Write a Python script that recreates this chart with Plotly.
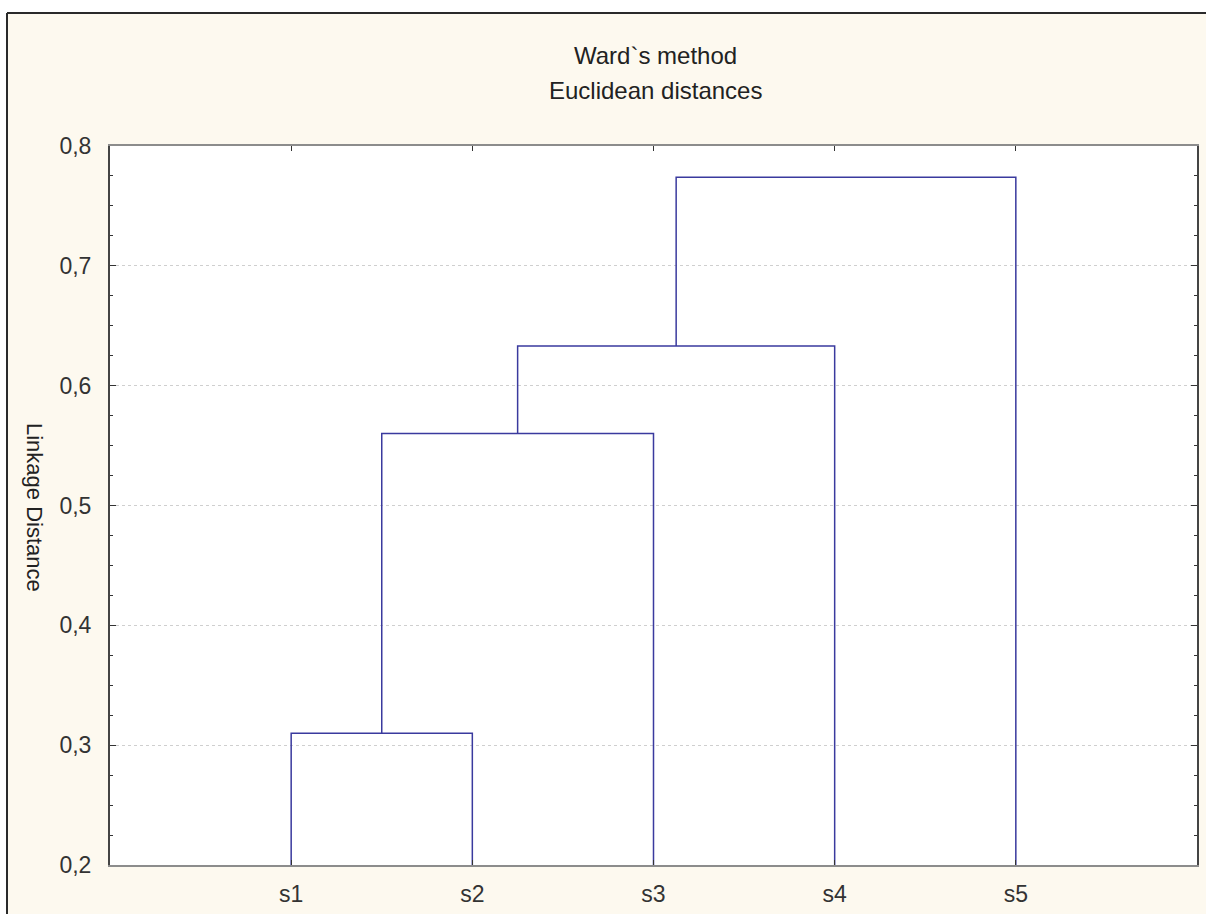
import plotly.graph_objects as go

# Leaves of the dendrogram, left to right
leaf_labels = ["s1", "s2", "s3", "s4", "s5"]

# Agglomeration steps (Ward's method): pair of members joined and linkage distance.
# Members are leaf names or "c<k>" for the cluster created at step k.
merge_left = ["s1", "c1", "c2", "c3"]
merge_right = ["s2", "s3", "s4", "s5"]
merge_height = [0.310, 0.560, 0.633, 0.774]

y_ticks = [0.2, 0.3, 0.4, 0.5, 0.6, 0.7, 0.8]

FONT = "Liberation Sans, Arial, sans-serif"
LINE_COLOR = "#3a3a9e"
CREAM = "#fdf9ef"

# Position of each node: x = leaf order (or midpoint of children), y = height
pos = {name: (i + 1, 0.2) for i, name in enumerate(leaf_labels)}

fig = go.Figure()
for k, (a, b, h) in enumerate(zip(merge_left, merge_right, merge_height), start=1):
    xa, ya = pos[a]
    xb, yb = pos[b]
    fig.add_trace(go.Scatter(
        x=[xa, xa, xb, xb],
        y=[ya, h, h, yb],
        mode="lines",
        line=dict(color=LINE_COLOR, width=1.5),
        hoverinfo="skip",
        showlegend=False,
    ))
    pos[f"c{k}"] = ((xa + xb) / 2, h)

# Layout geometry in pixels
W, H = 1206, 914
L, R, T, B = 110, 9, 146, 49
pw, ph = W - L - R, H - T - B


def px_x(p):
    return (p - L) / pw


def px_y(p):
    return (H - B - p) / ph


shapes = [
    # white margin outside the outer frame
    dict(type="rect", xref="paper", yref="paper",
         x0=px_x(-5), x1=px_x(7), y0=px_y(H + 5), y1=px_y(-5),
         fillcolor="white", line=dict(width=0), layer="below"),
    dict(type="rect", xref="paper", yref="paper",
         x0=px_x(-5), x1=px_x(W + 5), y0=px_y(13), y1=px_y(-5),
         fillcolor="white", line=dict(width=0), layer="below"),
    # outer frame edges
    dict(type="line", xref="paper", yref="paper",
         x0=px_x(7), x1=px_x(7), y0=px_y(13), y1=px_y(H + 5),
         line=dict(color="#2a2a2a", width=2)),
    dict(type="line", xref="paper", yref="paper",
         x0=px_x(7), x1=px_x(W + 5), y0=px_y(13), y1=px_y(13),
         line=dict(color="#2a2a2a", width=2)),
]

annotations = [
    dict(text="Ward`s method", xref="paper", yref="paper",
         x=px_x(655), y=px_y(56), xanchor="center", yanchor="middle",
         showarrow=False, font=dict(family=FONT, size=24, color="#222222")),
    dict(text="Euclidean distances", xref="paper", yref="paper",
         x=px_x(655), y=px_y(90), xanchor="center", yanchor="middle",
         showarrow=False, font=dict(family=FONT, size=24, color="#222222")),
    dict(text="Linkage Distance", xref="paper", yref="paper",
         x=px_x(35), y=px_y(507), xanchor="center", yanchor="middle",
         textangle=90, showarrow=False,
         font=dict(family=FONT, size=22, color="#222222")),
]

fig.update_layout(
    width=W, height=H,
    margin=dict(l=L, r=R, t=T, b=B, pad=0, autoexpand=False),
    paper_bgcolor=CREAM,
    plot_bgcolor="white",
    separators=", ",
    showlegend=False,
    shapes=shapes,
    annotations=annotations,
    font=dict(family=FONT, size=23, color="#333333"),
)

fig.update_xaxes(
    range=[0, len(leaf_labels) + 1],
    tickmode="array",
    tickvals=list(range(1, len(leaf_labels) + 1)),
    ticktext=leaf_labels,
    ticks="inside", ticklen=5, tickcolor="#333333",
    showgrid=False, zeroline=False, automargin=False,
    showline=True, linecolor="#8c8c8c", linewidth=2, mirror="ticks",
    ticklabelstandoff=7,
    tickfont=dict(family=FONT, size=23, color="#333333"),
)

fig.update_yaxes(
    range=[0.2, 0.8],
    tickmode="array",
    tickvals=y_ticks,
    tickformat=".1f",
    ticks="inside", ticklen=6, tickcolor="#333333",
    minor=dict(dtick=0.025, ticks="inside", ticklen=3, tickcolor="#333333",
               showgrid=False),
    showgrid=True, gridcolor="#cfcfcf", griddash="dot", gridwidth=1,
    zeroline=False, automargin=False,
    showline=True, linecolor="#444444", linewidth=2, mirror="ticks",
    ticklabelstandoff=12,
    tickfont=dict(family=FONT, size=23, color="#333333"),
)

fig.write_html("out.html")
